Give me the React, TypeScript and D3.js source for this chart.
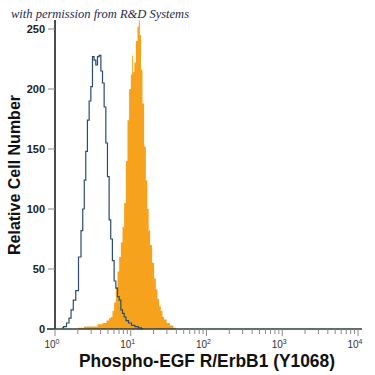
import * as d3 from 'd3'

// control (isotype) histogram, outline only
const controlIntensity = [1.24, 1.36, 1.48, 1.58, 1.68, 1.81, 1.95, 2.14, 2.27, 2.38, 2.49, 2.61, 2.75, 2.9, 3.05, 3.2, 3.37, 3.55, 3.73, 3.93, 4.14, 4.34, 4.57, 4.81, 5.05, 5.32, 5.57, 5.88, 6.19, 6.53, 6.85, 7.21, 7.6, 7.97, 8.4, 8.92, 9.77, 10.7, 12.0, 13.2, 14.5]
const controlCount = [1, 2, 5, 9, 16, 24, 32, 60, 82, 100, 124, 148, 174, 190, 202, 227, 224, 220, 227, 228, 215, 205, 185, 155, 127, 91, 75, 57, 40, 34, 27, 24, 16, 13, 10, 7, 5, 3, 2, 1, 0]

// stained sample, filled orange
const stainedIntensity = [1.89, 2.14, 2.73, 3.37, 3.93, 4.57, 5.0, 5.32, 5.6, 5.88, 6.19, 6.53, 6.85, 7.21, 7.6, 7.97, 8.4, 8.84, 9.28, 9.77, 10.29, 10.6, 10.94, 11.38, 11.98, 12.58, 12.97, 13.37, 13.95, 14.64, 15.42, 16.24, 16.9, 17.58, 18.5, 19.85, 20.9, 22.0, 23.1, 24.3, 25.6, 26.9, 28.3, 31.3, 34.7, 38.4, 42.0]
const stainedCount = [0, 1, 2, 2, 4, 5, 7, 9, 10, 15, 22, 35, 48, 60, 72, 85, 105, 140, 174, 200, 212, 228, 214, 222, 240, 252, 257, 245, 216, 188, 152, 124, 100, 82, 70, 55, 42, 33, 25, 19, 15, 10, 8, 5, 3, 1, 0]

const yTicks = [0, 50, 100, 150, 200, 250]
const xDecades = [1, 10, 100, 1000, 10000]
const xExponents = ['0', '1', '2', '3', '4']

const credit = 'with permission from R&D Systems'
const xTitle = 'Phospho-EGF R/ErbB1 (Y1068)'
const yTitle = 'Relative Cell Number'

type Pt = { x: number; y: number }

export default function App() {
  const x = d3.scaleLog().domain([1, 10000]).range([55, 358])
  const y = d3.scaleLinear().domain([0, 250]).range([329, 29])

  const control: Pt[] = controlIntensity.map((v, i) => ({ x: v, y: controlCount[i] }))
  const stained: Pt[] = stainedIntensity.map((v, i) => ({ x: v, y: stainedCount[i] }))

  const area = d3
    .area<Pt>()
    .x((d) => x(d.x))
    .y0(y(0))
    .y1((d) => y(d.y))
    .curve(d3.curveStep)
  const line = d3
    .line<Pt>()
    .x((d) => x(d.x))
    .y((d) => y(d.y))
    .curve(d3.curveStep)

  const minor = x.ticks().filter((t) => !xDecades.includes(t))
  const font = '"Liberation Sans", Arial, sans-serif'

  return (
    <svg width={375} height={375} style={{ position: 'absolute', left: 0, top: 0, background: '#fff' }}>
      <text x={11} y={18} fontFamily='"Liberation Serif", serif' fontStyle="italic" fontSize={12.5} fill="#1c2b4f">
        {credit}
      </text>

      <path d={area(stained) ?? ''} fill="#f7a21c" />
      <path d={line(control) ?? ''} fill="none" stroke="#2a4c6e" strokeWidth={1.2} />

      {/* y axis */}
      <line x1={55} x2={55} y1={20} y2={329} stroke="#111" strokeWidth={1.5} />
      {yTicks.map((t) => (
        <g key={t}>
          <line x1={t === 0 ? 47 : 48} x2={55} y1={y(t)} y2={y(t)} stroke="#888" strokeWidth={1} />
          <text x={45} y={y(t) + 4} textAnchor="end" fontFamily={font} fontWeight="bold" fontSize={11} fill="#222">
            {t}
          </text>
        </g>
      ))}

      {/* x axis */}
      <line x1={47} x2={362} y1={329} y2={329} stroke="#2f3b3f" strokeWidth={1.5} />
      {minor.map((t) => (
        <line key={t} x1={x(t)} x2={x(t)} y1={329} y2={334} stroke="#888" strokeWidth={1} />
      ))}
      {xDecades.map((t, i) => (
        <g key={t}>
          <line x1={x(t)} x2={x(t)} y1={329} y2={336} stroke="#888" strokeWidth={1} />
          <text x={x(t) - 3} y={348} textAnchor="middle" fontFamily={font} fontSize={10} fill="#333">
            10
            <tspan dy={-4} fontSize={7}>
              {xExponents[i]}
            </tspan>
          </text>
        </g>
      ))}

      <text
        x={207}
        y={367}
        textAnchor="middle"
        fontFamily={font}
        fontWeight="bold"
        fontSize={18}
        textLength={256}
        lengthAdjust="spacingAndGlyphs"
        fill="#111"
      >
        {xTitle}
      </text>
      <text
        transform="translate(20,175) rotate(-90)"
        textAnchor="middle"
        fontFamily={font}
        fontWeight="bold"
        fontSize={17}
        textLength={160}
        lengthAdjust="spacingAndGlyphs"
        fill="#111"
      >
        {yTitle}
      </text>
    </svg>
  )
}
